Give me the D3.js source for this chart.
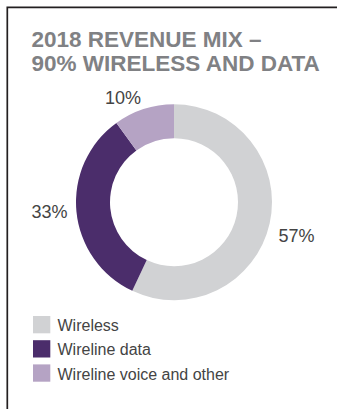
<!DOCTYPE html>
<html>
<head>
<meta charset="utf-8">
<script src="https://cdn.jsdelivr.net/npm/d3@7"></script>
<style>
  html, body { margin: 0; padding: 0; background: #ffffff; }
  svg { display: block; }
</style>
</head>
<body>
<script>
const titleLines = ["2018 REVENUE MIX \u2013", "90% WIRELESS AND DATA"];
const categories = ["Wireless", "Wireline data", "Wireline voice and other"];
const values = [57, 33, 10];
const labels = ["57%", "33%", "10%"];
const colors = ["#d1d2d4", "#4b2d6b", "#b5a3c4"];

const W = 337, H = 409;
const svg = d3.select("body").append("svg").attr("width", W).attr("height", H);

// frame (top and left rules)
svg.append("path")
  .attr("d", `M7.3,${H} L7.3,7.3 L${W},7.3`)
  .attr("fill", "none").attr("stroke", "#231f20").attr("stroke-width", 1.7);

// title
svg.append("g").selectAll("text").data(titleLines).join("text")
  .attr("x", 31.5)
  .attr("y", (d, i) => 47 + i * 23.5)
  .attr("font-family", "'Liberation Sans', Arial, sans-serif")
  .attr("font-weight", "bold")
  .attr("font-size", 22.5)
  .attr("fill", "#808184")
  .text(d => d);

// donut
const cx = 174, cy = 202.2;
const outerR = 98, innerR = 64;
const pie = d3.pie().sort(null).value(d => d);
const arcs = pie(values);
const arc = d3.arc().innerRadius(innerR).outerRadius(outerR);
const g = svg.append("g").attr("transform", `translate(${cx},${cy})`);
g.selectAll("path").data(arcs).join("path")
  .attr("d", arc)
  .attr("fill", (d, i) => colors[i]);

// labels
const labelR = 107;
const nudgeY = [10, -1, -3];
g.selectAll("text").data(arcs).join("text")
  .attr("x", d => labelR * Math.sin((d.startAngle + d.endAngle) / 2))
  .attr("y", (d, i) => -labelR * Math.cos((d.startAngle + d.endAngle) / 2) + nudgeY[i] + 6.5)
  .attr("text-anchor", d => Math.sin((d.startAngle + d.endAngle) / 2) >= 0 ? "start" : "end")
  .attr("font-family", "'Liberation Sans', Arial, sans-serif")
  .attr("font-size", 18)
  .attr("fill", "#444444")
  .text((d, i) => labels[i]);

// legend
const leg = svg.append("g").attr("transform", "translate(33,316)");
const items = leg.selectAll("g").data(categories).join("g")
  .attr("transform", (d, i) => `translate(0,${i * 24.2})`);
items.append("rect").attr("width", 17.3).attr("height", 17.3)
  .attr("fill", (d, i) => colors[i]);
items.append("text")
  .attr("x", 24.5).attr("y", 15.3)
  .attr("font-family", "'Liberation Sans', Arial, sans-serif")
  .attr("font-size", 16)
  .attr("fill", "#444444")
  .text(d => d);
</script>
</body>
</html>
